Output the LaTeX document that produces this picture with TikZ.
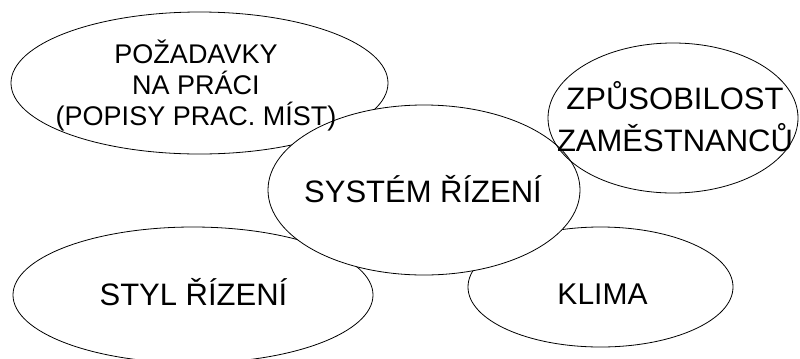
\documentclass[tikz,border=0pt]{standalone}
\usepackage{fontspec}
\setmainfont{Liberation Sans}
\usetikzlibrary{shapes.geometric}
\begin{document}
\begin{tikzpicture}[x=1bp,y=-1bp,
  oval/.style={ellipse, draw, line width=0.8bp, inner sep=0pt, outer sep=0pt},
  lbl/.style={inner sep=0pt, align=center, anchor=base},
  big/.style={font=\fontsize{31bp}{42bp}\selectfont},
  mid/.style={font=\fontsize{27bp}{31bp}\selectfont}]
\useasboundingbox (0,0) rectangle (800,358);
% shapes
\node[oval, minimum width=377bp, minimum height=142bp] (tl) at (199.5,83) {};
\node[oval, minimum width=360bp, minimum height=136bp] (st) at (193,295) {};
\node[oval, minimum width=265bp, minimum height=120bp] (kl) at (600.5,287) {};
\node[oval, fill=white, minimum width=312bp, minimum height=170bp] (sy) at (424,190) {};
\node[oval, minimum width=250bp, minimum height=150bp] (zp) at (673,118) {};
% texts
\node[lbl, mid] (tlt) at (196,125) {POŽADAVKY\\NA PRÁCI\\(POPISY PRAC. MÍST)};
\node[lbl, big] (zpt) at (675,151) {ZPŮSOBILOST\\ZAMĚSTNANCŮ};
\node[lbl, big] (syt) at (423,202) {SYSTÉM ŘÍZENÍ};
\node[lbl, big] (stt) at (193.5,305) {STYL ŘÍZENÍ};
\node[lbl, font=\fontsize{30bp}{36bp}\selectfont] (klt) at (602.5,304) {KLIMA};
\end{tikzpicture}
\end{document}
